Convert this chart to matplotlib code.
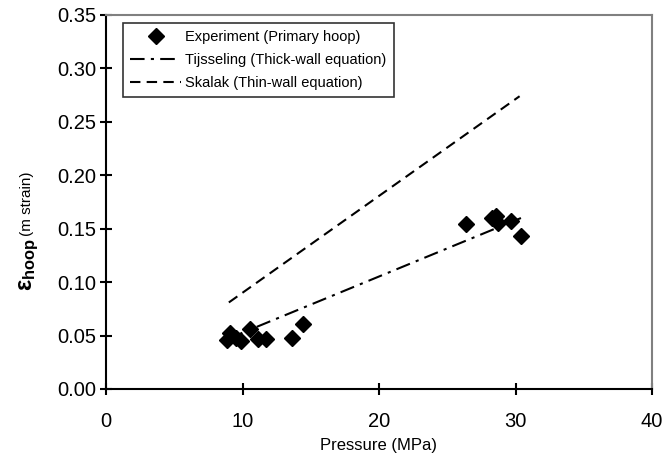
import matplotlib
matplotlib.use("Agg")
import matplotlib.pyplot as plt
import numpy as np

plt.rcParams['font.family'] = ['Liberation Sans', 'DejaVu Sans']
plt.rcParams['mathtext.fontset'] = 'custom'
plt.rcParams['mathtext.rm'] = 'Liberation Sans'
plt.rcParams['mathtext.bf'] = 'Liberation Sans:bold'
plt.rcParams['mathtext.it'] = 'Liberation Sans:italic'

# Experimental data (Primary hoop)
exp_pressure = [8.9, 9.1, 9.5, 9.9, 10.55, 11.15, 11.7, 13.6, 14.4,
                26.4, 28.3, 28.55, 28.7, 29.7, 30.4]
exp_strain = [0.046, 0.052, 0.048, 0.045, 0.056, 0.047, 0.047, 0.048, 0.061,
              0.154, 0.160, 0.162, 0.155, 0.157, 0.143]

# Model lines
tij_pressure = [9.0, 30.4]
tij_strain = [0.0474, 0.160]
sk_pressure = [9.0, 30.3]
sk_strain = [0.081, 0.274]

xticks = [0, 10, 20, 30, 40]
yticks = [0.00, 0.05, 0.10, 0.15, 0.20, 0.25, 0.30, 0.35]

W, H = 667, 458
fig = plt.figure(figsize=(W/100, H/100), dpi=100)
ax = fig.add_axes([106/W, 1-389/H, (652-106)/W, (389-15)/H])

ax.plot(exp_pressure, exp_strain, linestyle='none', marker='D', markersize=8,
        color='black', label='Experiment (Primary hoop)')
ax.plot(tij_pressure, tij_strain, color='black', linewidth=1.5,
        dashes=(7, 3, 1.5, 3), label='Tijsseling (Thick-wall equation)')
ax.plot(sk_pressure, sk_strain, color='black', linewidth=1.5,
        dashes=(5, 3), label='Skalak (Thin-wall equation)')

ax.set_xlim(0, 40)
ax.set_ylim(0, 0.35)
ax.set_xticks(xticks)
ax.set_xticklabels([str(v) for v in xticks])
ax.set_yticks(yticks)
ax.set_yticklabels([f'{v:.2f}' for v in yticks])
ax.tick_params(direction='inout', length=8.5, width=1.5, labelsize=14.5, colors='black')
ax.tick_params(axis='x', pad=12)
ax.tick_params(axis='y', pad=2.5)

for s in ['left', 'bottom']:
    ax.spines[s].set_linewidth(1.5)
    ax.spines[s].set_color('black')
for s in ['top', 'right']:
    ax.spines[s].set_linewidth(1.5)
    ax.spines[s].set_color('#808080')

ax.set_xlabel('Pressure (MPa)', fontsize=12, labelpad=5)

# y-axis title: bold epsilon with bold subscript, followed by normal text
fig.text(32/W, 1-291/H, r'$\mathbf{ε}_{\mathbf{hoop}}$', fontsize=17, rotation=90,
         rotation_mode='anchor', ha='left', va='baseline')
fig.text(31/W, 1-236/H, '(m strain)', fontsize=11, rotation=90,
         rotation_mode='anchor', ha='left', va='baseline')

leg = ax.legend(loc='upper left', bbox_to_anchor=(17/546, 1-8/374), fontsize=10.5,
                frameon=True, fancybox=False, handlelength=3.5, handletextpad=0.25,
                borderpad=0.5, labelspacing=0.6, borderaxespad=0)
leg.get_frame().set_edgecolor('black')
leg.get_frame().set_linewidth(1.2)

fig.savefig('out.png', dpi=100)
